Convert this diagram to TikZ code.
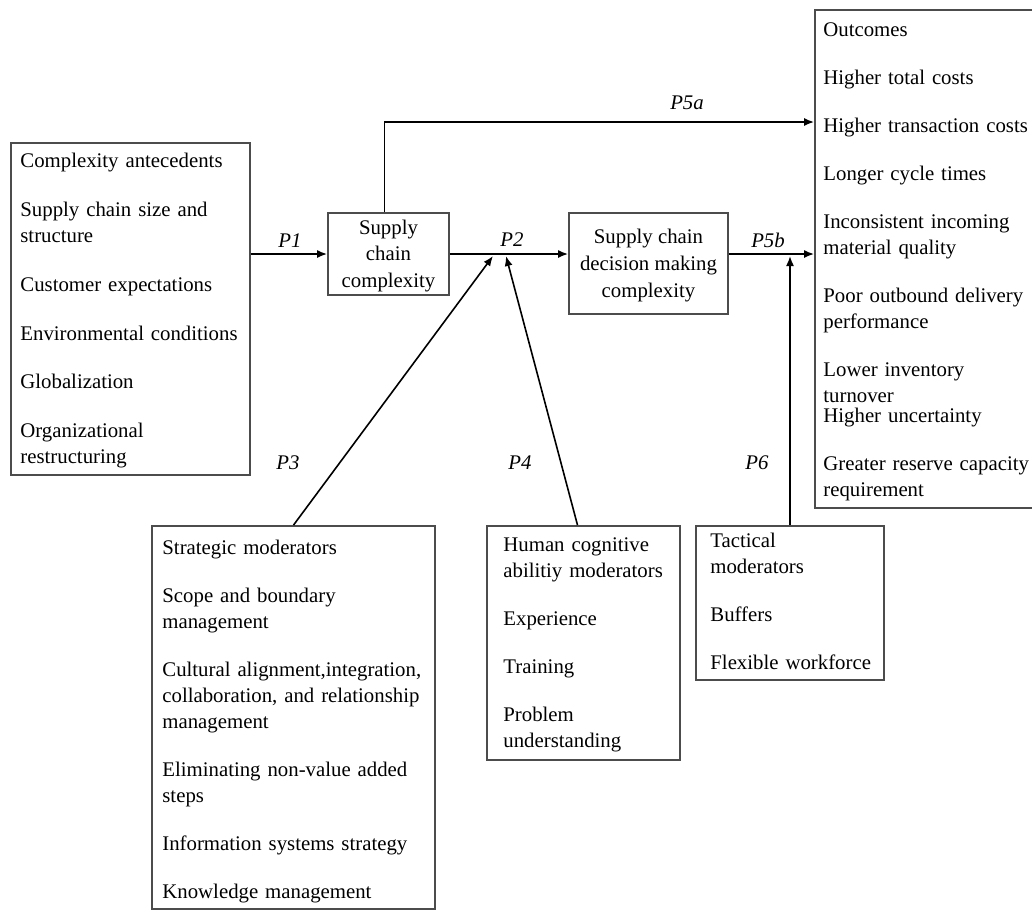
\documentclass[tikz,border=0pt]{standalone}
\usepackage{fontspec}
\setmainfont{Liberation Serif}
\usetikzlibrary{arrows.meta}
\begin{document}
\begin{tikzpicture}[x=0.5pt,y=-0.5pt,
  box/.style={draw=black!70,line width=0.9pt,inner sep=0pt},
  txt/.style={anchor=north west,inner sep=0pt,align=left,text width=#1,
    font=\fontsize{10.4}{13}\selectfont},
  ctr/.style={align=center,inner sep=0pt,font=\fontsize{10.4}{13.4}\selectfont},
  plab/.style={inner sep=0pt,font=\fontsize{10.4}{13}\selectfont\itshape},
  conn/.style={draw=black,line width=0.8pt,-{Latex[length=5pt,width=4pt]}},
]
\clip (0,0) rectangle (1032,911);

% boxes
\node[box,minimum width=119.5pt,minimum height=166pt] (ante) at (130.5,309) {};
\node[box,minimum width=60.5pt,minimum height=41pt] (scc) at (388.5,254) {};
\node[box,minimum width=79.5pt,minimum height=50.5pt] (scdm) at (648.5,263.5) {};
\node[box,minimum width=109.5pt,minimum height=249pt] (out) at (924.5,259) {};
\node[box,minimum width=141.5pt,minimum height=191.5pt] (strat) at (293.5,717.5) {};
\node[box,minimum width=96.5pt,minimum height=117pt] (hum) at (583.5,643) {};
\node[box,minimum width=94pt,minimum height=77pt] (tac) at (790,603) {};

% box texts
\node[txt=115pt] (antetxt) at (20,149) {\strut Complexity antecedents\\[11.4pt]
  Supply chain size and\\ structure\\[11.4pt]
  Customer expectations\\[11.4pt]
  Environmental conditions\\[11.4pt]
  Globalization\\[11.4pt]
  Organizational\\ restructuring};
\node[ctr] (scctxt) at ([yshift=-1pt]scc.center) {Supply\\ chain\\ complexity};
\node[ctr] (scdmtxt) at ([yshift=-1pt]scdm.center) {Supply chain\\ decision making\\ complexity};
\node[txt=150pt] (outtxt) at (823,18) {\strut Outcomes\\[11pt]
  Higher total costs\\[11pt]
  Higher transaction costs\\[11pt]
  Longer cycle times\\[11pt]
  Inconsistent incoming\\ material quality\\[11pt]
  Poor outbound delivery\\ performance\\[11pt]
  Lower inventory\\ turnover\\[-3pt]
  Higher uncertainty\\[11pt]
  Greater reserve capacity\\ requirement};
\node[txt=140pt] (strattxt) at (162,536) {\strut Strategic moderators\\[11pt]
  Scope and boundary\\ management\\[11pt]
  Cultural alignment,integration,\\ collaboration, and relationship\\ management\\[11pt]
  Eliminating non-value added\\ steps\\[11pt]
  Information systems strategy\\[11pt]
  Knowledge management};
\node[txt=95pt] (humtxt) at (503,533) {\strut Human cognitive\\ abilitiy moderators\\[11pt]
  Experience\\[11pt]
  Training\\[11pt]
  Problem\\ understanding};
\node[txt=95pt] (tactxt) at (710,529) {\strut Tactical\\ moderators\\[11pt]
  Buffers\\[11pt]
  Flexible workforce};

% proposition labels
\node[plab] (p1) at (290,241) {P1};
\node[plab] (p2) at (512,240) {P2};
\node[plab] (p5a) at (687,103) {P5a};
\node[plab] (p5b) at (768,240) {P5b};
\node[plab] (p3) at (288,463) {P3};
\node[plab] (p4) at (520,463) {P4};
\node[plab] (p6) at (757,463) {P6};

% junction points on the main flow
\coordinate (toprow) at (0,122);
\coordinate (m3) at (493,256);
\coordinate (m4) at (506,256);
\coordinate (m6) at (790,256);

% connectors
\draw[conn] (ante.east |- scc.west) -- (scc.west);
\draw[conn] (scc.east) -- (scdm.west |- scc.east);
\draw[conn] (scdm.east |- scc.east) -- (out.west |- scc.east);
\draw[conn] ([xshift=-2pt]scc.north) |- (out.west |- toprow);
\draw[conn] (strat.north) -- (m3);
\draw[conn] ([xshift=-3pt]hum.north) -- (m4);
\draw[conn] (tac.north) -- (m6);
\end{tikzpicture}
\end{document}
